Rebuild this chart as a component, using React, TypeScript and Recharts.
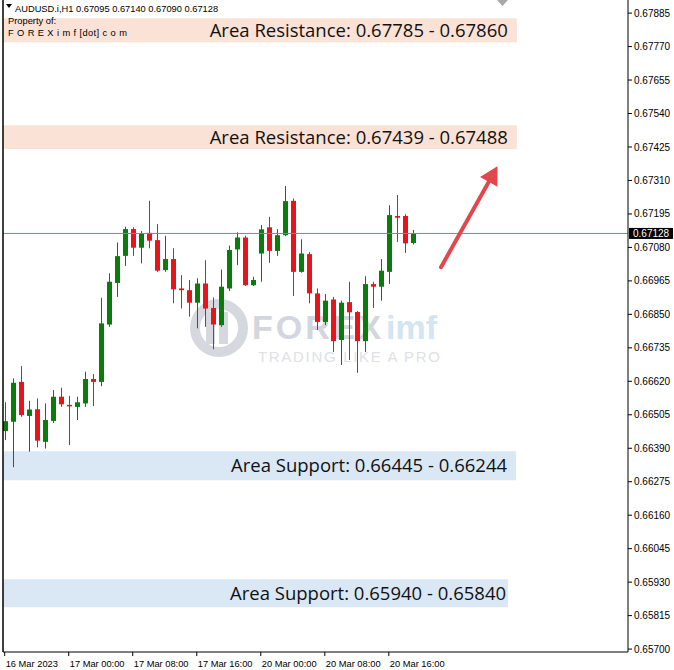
import { ComposedChart, Bar, XAxis, YAxis, ReferenceArea, ReferenceLine } from 'recharts'

// AUDUSD H1 candles, 16 Mar 16:00 .. 20 Mar 19:00
const opens = [
  0.66449, 0.66481, 0.66618, 0.66501, 0.66524, 0.66412, 0.66484, 0.66567, 0.66539, 0.66532,
  0.66544, 0.66628, 0.66618, 0.66815, 0.66958, 0.67051, 0.67143, 0.67079, 0.6713, 0.67105,
  0.67002, 0.6704, 0.66939, 0.66933, 0.6689, 0.66956, 0.66872, 0.66813, 0.66939, 0.67073,
  0.67114, 0.6695, 0.67059, 0.67149, 0.67068, 0.67122, 0.6724, 0.66996, 0.67057, 0.66922,
  0.66824, 0.66901, 0.66762, 0.66892, 0.66858, 0.66758, 0.66954, 0.66945, 0.66996, 0.67188,
  0.67188, 0.67095,
]
const highs = [
  0.66548, 0.6663, 0.66672, 0.66553, 0.66561, 0.66544, 0.6659, 0.66598, 0.6657, 0.66567,
  0.66653, 0.66645, 0.66907, 0.66991, 0.67097, 0.67151, 0.67149, 0.67136, 0.6724, 0.6716,
  0.6712, 0.67077, 0.66985, 0.66968, 0.66974, 0.67036, 0.66908, 0.67004, 0.67086, 0.67132,
  0.6712, 0.66979, 0.67157, 0.67185, 0.67143, 0.67291, 0.67248, 0.67108, 0.67064, 0.66939,
  0.6692, 0.6691, 0.66897, 0.66962, 0.66861, 0.66981, 0.66962, 0.6704, 0.67225, 0.6726,
  0.67194, 0.6714,
]
const lows = [
  0.66418, 0.66325, 0.66498, 0.66378, 0.66393, 0.66389, 0.66477, 0.66532, 0.66401, 0.66487,
  0.66532, 0.66535, 0.66603, 0.66807, 0.6691, 0.67016, 0.67051, 0.67025, 0.67077, 0.66996,
  0.66996, 0.66888, 0.6687, 0.66842, 0.66802, 0.66807, 0.6673, 0.66807, 0.6693, 0.67019,
  0.66948, 0.66948, 0.66962, 0.67027, 0.67051, 0.67119, 0.66913, 0.66993, 0.66888, 0.66796,
  0.66813, 0.66721, 0.66676, 0.66693, 0.66649, 0.66721, 0.66872, 0.66897, 0.66954, 0.67099,
  0.67061, 0.6709,
]
const closes = [
  0.66483, 0.66615, 0.66504, 0.66523, 0.66416, 0.66487, 0.66567, 0.66541, 0.66534, 0.66548,
  0.66628, 0.66618, 0.66819, 0.66962, 0.6705, 0.67143, 0.67079, 0.67128, 0.67103, 0.67,
  0.6704, 0.66936, 0.66933, 0.6689, 0.66956, 0.6687, 0.66815, 0.66945, 0.67071, 0.67114,
  0.6695, 0.66968, 0.67142, 0.67068, 0.67122, 0.67239, 0.66996, 0.67059, 0.66922, 0.66824,
  0.66897, 0.66758, 0.6689, 0.66857, 0.66758, 0.66954, 0.66945, 0.67, 0.67191, 0.67182,
  0.67094, 0.67128,
]

const timeTicks = [0, 8, 16, 24, 32, 40, 48]
const timeLabels = [
  '16 Mar 2023',
  '17 Mar 00:00',
  '17 Mar 08:00',
  '17 Mar 16:00',
  '20 Mar 00:00',
  '20 Mar 08:00',
  '20 Mar 16:00',
]

const priceTicks = [
  0.67885, 0.6777, 0.67655, 0.6754, 0.67425, 0.6731, 0.67195, 0.6708, 0.66965, 0.6685,
  0.66735, 0.6662, 0.66505, 0.6639, 0.66275, 0.6616, 0.66045, 0.6593, 0.65815, 0.657,
]

const lastPrice = 0.67128

// drawn zones (box edges as drawn on the chart, not the labelled levels)
const zoneLabels = [
  'Area Resistance: 0.67785 - 0.67860',
  'Area Resistance: 0.67439 - 0.67488',
  'Area Support: 0.66445 - 0.66244',
  'Area Support: 0.65940 - 0.65840',
]
const zoneTop = [0.67867, 0.675, 0.6638, 0.6594]
const zoneBottom = [0.67785, 0.67418, 0.6628, 0.65844]
const zoneEnd = [64, 64, 63.9, 62.9]
const zoneKind = ['res', 'res', 'sup', 'sup']

const X_DOMAIN: [number, number] = [-0.2125, 77.8875]
const Y_DOMAIN: [number, number] = [0.6569, 0.6793]

const BULL = '#0b7c0b'
const BEAR = '#e8141c'
const ARROW = '#e2474d'

const data = opens.map((o, i) => ({
  i,
  open: o,
  high: highs[i],
  low: lows[i],
  close: closes[i],
  range: [lows[i], highs[i]],
}))

const Candle = (props: any) => {
  const { x, y, width, height, payload } = props
  if (!payload) return null
  const { open, close, high, low } = payload
  const top = Math.min(y, y + height)
  const h = Math.abs(height)
  const span = high - low || 1e-9
  const toY = (p: number) => top + ((high - p) / span) * h
  const cx = Math.round(x + width / 2) + 0.5
  const color = close > open ? BULL : BEAR
  const bTop = Math.min(toY(open), toY(close))
  const bH = Math.max(Math.abs(toY(open) - toY(close)), 1.5)
  return (
    <g>
      <line x1={cx} x2={cx} y1={top} y2={top + h} stroke={color} strokeWidth={1} />
      <rect x={cx - 2.5} y={bTop} width={5} height={bH} fill={color} />
    </g>
  )
}

const TimeTick = (props: any) => {
  const { x, y, payload } = props
  const idx = timeTicks.indexOf(payload.value)
  return (
    <text x={x + 1} y={y + 9} fontSize={9.3} fill="#000" textAnchor="start" fontFamily="Liberation Sans">
      {timeLabels[idx]}
    </text>
  )
}

const PriceTag = (props: any) => {
  const { viewBox } = props
  const left = viewBox.x + viewBox.width + 1
  return (
    <g>
      <rect x={left} y={viewBox.y - 5.5} width={44} height={11} fill="#000" />
      <text x={left + 4} y={viewBox.y + 3.5} fontSize={10} fill="#fff" fontFamily="Liberation Sans">
        {lastPrice.toFixed(5)}
      </text>
    </g>
  )
}

const Arrow = (props: any) => {
  const { x1, y1, x2, y2 } = props
  const dx = x2 - x1
  const dy = y2 - y1
  const len = Math.hypot(dx, dy) || 1
  const ux = dx / len
  const uy = dy / len
  const bx = x2 - ux * 18
  const by = y2 - uy * 18
  const nx = -uy * 10
  const ny = ux * 10
  return (
    <g>
      <line x1={x1} y1={y1} x2={bx + ux * 2} y2={by + uy * 2} stroke={ARROW} strokeWidth={4} strokeLinecap="round" />
      <polygon points={`${x2},${y2} ${bx + nx},${by + ny} ${bx - nx},${by - ny}`} fill={ARROW} />
    </g>
  )
}

export default function App() {
  return (
    <div
      style={{
        position: 'absolute',
        left: 0,
        top: 0,
        width: 674,
        height: 670,
        background: '#fff',
        fontFamily: 'Liberation Sans',
      }}
    >
      {/* watermark, sits under the candles */}
      <svg width={674} height={670} style={{ position: 'absolute', left: 0, top: 0, zIndex: 0 }}>
        <circle cx={219} cy={328} r={24} fill="none" stroke="#d6d8e0" strokeWidth={10} />
        <rect x={206} y={312} width={9} height={32} fill="#d6d8e0" />
        <rect x={219} y={312} width={9} height={32} fill="#d6d8e0" />
        <text x={252} y={339} fontSize={34} fontWeight={700} fill="#d3d6de" fontFamily="Liberation Sans" letterSpacing={3}>
          FOREX
        </text>
        <text x={386} y={339} fontSize={34} fontWeight={700} fill="#d3e5f1" fontFamily="Liberation Sans">
          imf
        </text>
        <text x={258} y={362} fontSize={15} fill="#e0e1e5" fontFamily="Liberation Sans" textLength={182}>
          TRADING LIKE A PRO
        </text>
      </svg>

      <div style={{ position: 'absolute', left: 0, top: 0, zIndex: 1 }}>
        <ComposedChart width={674} height={670} data={data} margin={{ top: 0, right: 0, bottom: 0, left: 0 }}>
          <XAxis
            dataKey="i"
            type="number"
            domain={X_DOMAIN}
            allowDataOverflow
            ticks={timeTicks}
            interval={0}
            height={18}
            tick={<TimeTick />}
            tickSize={4}
            axisLine={{ stroke: '#000' }}
            tickLine={{ stroke: '#000' }}
          />
          <YAxis
            yAxisId="frame"
            orientation="left"
            width={3}
            type="number"
            domain={[0, 1]}
            tick={false}
            tickLine={false}
            axisLine={{ stroke: '#000', strokeWidth: 1.5 }}
          />
          <YAxis
            yAxisId="price"
            orientation="right"
            width={46}
            type="number"
            domain={Y_DOMAIN}
            allowDataOverflow
            ticks={priceTicks}
            interval={0}
            tickFormatter={(v: number) => v.toFixed(5)}
            tick={{ fontSize: 10, fill: '#000', fontFamily: 'Liberation Sans' }}
            tickSize={4}
            tickMargin={2}
            axisLine={{ stroke: '#000' }}
            tickLine={{ stroke: '#000' }}
          />

          {zoneLabels.map((label, k) => (
            <ReferenceArea
              key={label}
              yAxisId="price"
              x1={X_DOMAIN[0]}
              x2={zoneEnd[k]}
              y1={zoneBottom[k]}
              y2={zoneTop[k]}
              fill={zoneKind[k] === 'res' ? '#fbe2d6' : '#dae8f6'}
              fillOpacity={1}
              stroke="none"
              label={{
                value: label,
                position: 'insideRight',
                offset: zoneEnd[k] === 62.9 ? 2 : 9,
                fontSize: 18.5,
                fill: '#111',
                fontFamily: 'Open Sans',
              }}
            />
          ))}

          <ReferenceLine
            yAxisId="price"
            y={lastPrice}
            stroke="#7a8c8c"
            strokeWidth={1}
            label={<PriceTag />}
          />

          <Bar
            yAxisId="price"
            dataKey="range"
            barSize={6}
            shape={<Candle />}
            isAnimationActive={false}
          />

          <ReferenceLine
            yAxisId="price"
            segment={[
              { x: 54.52, y: 0.67012 },
              { x: 61.58, y: 0.67359 },
            ]}
            shape={<Arrow />}
          />
        </ComposedChart>
      </div>

      {/* terminal header text */}
      <svg
        width={674}
        height={670}
        style={{ position: 'absolute', left: 0, top: 0, zIndex: 2, pointerEvents: 'none' }}
      >
        <polygon points="6,4 12,4 9,8" fill="#000" />
        <text x={15} y={12} fontSize={9.3} fill="#000" fontFamily="Liberation Sans">
          AUDUSD.i,H1  0.67095 0.67140 0.67090 0.67128
        </text>
        <text x={8} y={24} fontSize={9.3} fill="#000" fontFamily="Liberation Sans">
          Property of:
        </text>
        <text x={8} y={36} fontSize={9.3} fill="#000" fontFamily="Liberation Sans" letterSpacing={0.4}>
          F O R E X i m f [dot] c o m
        </text>
        <polygon points="497,0 508,0 502.5,6" fill="#a8a8a8" />
      </svg>
    </div>
  )
}
